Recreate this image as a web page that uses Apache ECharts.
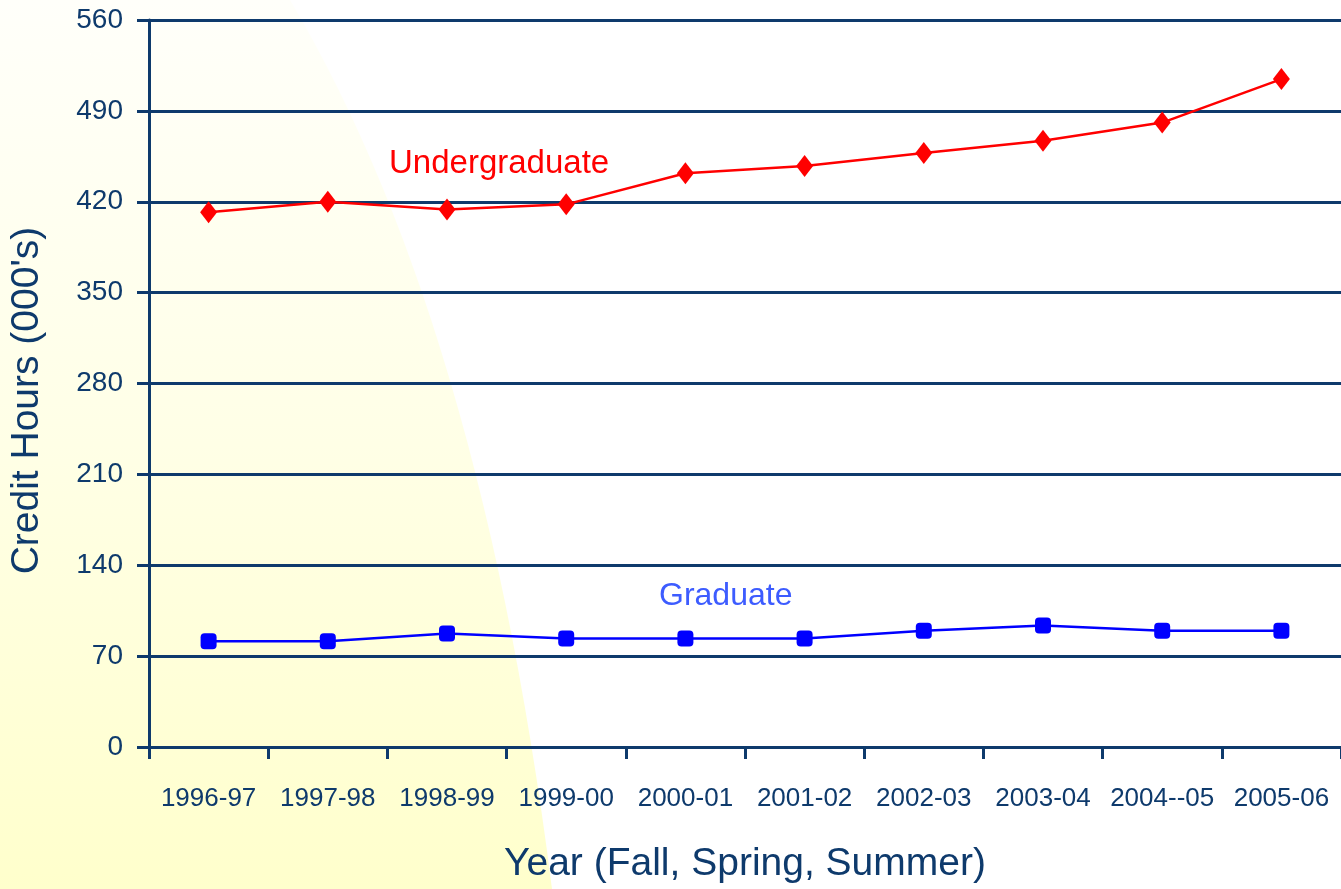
<!DOCTYPE html>
<html lang="en">
<head>
    <meta charset="UTF-8">
    <title>Credit Hours</title>
    <style>
        html, body { margin: 0; padding: 0; background: #fff; }
    </style>
</head>
<body>
<div id="main" style="width: 1341px;height:889px;"></div>
<script src="https://cdn.jsdelivr.net/npm/echarts@6/dist/echarts.min.js"></script>
<script type="text/javascript">
    // data (thousands of credit hours)
    var years = ['1996-97', '1997-98', '1998-99', '1999-00', '2000-01',
        '2001-02', '2002-03', '2003-04', '2004--05', '2005-06'];
    var undergrad = [412, 420, 414, 418, 442, 447.5, 457.5, 467, 481, 514.5];
    var grad = [81.5, 81.5, 87.5, 83.5, 83.5, 83.5, 89.5, 93.5, 89.5, 89.5];
    var yTicks = [0, 70, 140, 210, 280, 350, 420, 490, 560];

    var navy = '#0e3a6c';
    var font = '"Liberation Sans", Arial, sans-serif';

    // outline of the pale yellow sweep behind the plot (a quadratic curve)
    var sweep = [[0, 0]];
    for (var i = 0; i <= 30; i++) {
        var t = i / 30;
        sweep.push([
            (1 - t) * (1 - t) * 290 + 2 * (1 - t) * t * 480 + t * t * 552,
            2 * (1 - t) * t * 320 + t * t * 889
        ]);
    }
    sweep.push([0, 889]);

    var myChart = echarts.init(document.getElementById('main'));
    var option = {
        backgroundColor: '#ffffff',
        animation: false,
        graphic: [{
            type: 'polygon',
            z: -100,
            silent: true,
            shape: { points: sweep },
            style: {
                fill: new echarts.graphic.LinearGradient(0, 0, 0, 1, [
                    { offset: 0, color: '#fffffa' },
                    { offset: 0.5, color: '#ffffe6' },
                    { offset: 1, color: '#ffffcc' }
                ])
            }
        }],
        title: [{
            text: 'Undergraduate',
            left: 384,
            top: 142,
            textStyle: { color: '#ff0000', fontSize: 33, fontWeight: 'normal', fontFamily: font }
        }, {
            text: 'Graduate',
            left: 654,
            top: 575,
            textStyle: { color: '#3d5cff', fontSize: 32, fontWeight: 'normal', fontFamily: font }
        }],
        grid: {
            left: 148,
            right: -2,
            top: 20,
            bottom: 141
        },
        xAxis: {
            type: 'category',
            data: years,
            boundaryGap: true,
            name: 'Year (Fall, Spring, Summer)',
            nameLocation: 'middle',
            nameGap: 98,
            nameTextStyle: { color: navy, fontSize: 39, fontFamily: font },
            axisLine: { lineStyle: { color: navy, width: 3 } },
            axisTick: { show: true, length: 12, lineStyle: { color: navy, width: 3 } },
            axisLabel: { color: navy, fontSize: 26, fontFamily: font, margin: 39, interval: 0 },
            splitLine: { show: false }
        },
        yAxis: {
            type: 'value',
            min: yTicks[0],
            max: yTicks[yTicks.length - 1],
            interval: yTicks[1] - yTicks[0],
            name: "Credit Hours (000's)",
            nameLocation: 'middle',
            nameGap: 102,
            nameTextStyle: { color: navy, fontSize: 39, fontFamily: font, padding: [0, 34, 0, 0] },
            axisLine: { show: true, lineStyle: { color: navy, width: 3 } },
            axisTick: { show: true, length: 12, lineStyle: { color: navy, width: 3 } },
            axisLabel: { color: navy, fontSize: 28, fontFamily: font, margin: 26 },
            splitLine: { show: true, lineStyle: { color: navy, width: 3 } }
        },
        series: [{
            name: 'Undergraduate',
            type: 'line',
            data: undergrad,
            symbol: 'diamond',
            symbolSize: [17, 22],
            itemStyle: { color: '#ff0000' },
            lineStyle: { color: '#ff0000', width: 2.5 },
            z: 5
        }, {
            name: 'Graduate',
            type: 'line',
            data: grad,
            symbol: 'roundRect',
            symbolSize: 16,
            itemStyle: { color: '#0000ff' },
            lineStyle: { color: '#0000ff', width: 2.5 },
            z: 5
        }]
    };
    myChart.setOption(option);
</script>
</body>
</html>
